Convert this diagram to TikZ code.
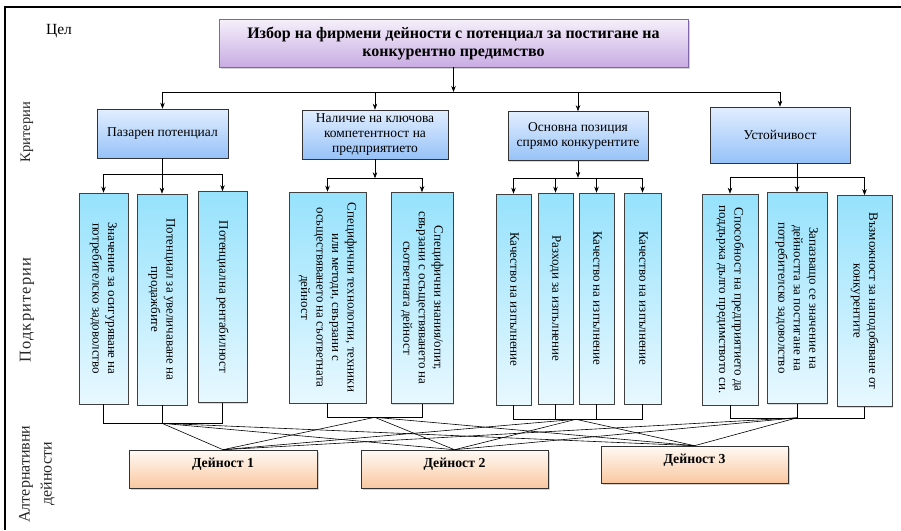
\documentclass[tikz,border=0pt]{standalone}
\usepackage{graphicx}
\usepackage{fontspec}
\setmainfont{Liberation Serif}
\usetikzlibrary{arrows.meta,positioning,calc,shadows}

\definecolor{goalline}{RGB}{128,100,168}
\definecolor{goaltop}{RGB}{246,240,251}
\definecolor{goalbot}{RGB}{200,172,226}
\definecolor{crittop}{RGB}{226,238,255}
\definecolor{critbot}{RGB}{150,194,248}
\definecolor{subtop}{RGB}{150,226,252}
\definecolor{subbot}{RGB}{232,248,255}
\definecolor{alttop}{RGB}{255,250,245}
\definecolor{altbot}{RGB}{249,200,160}

\newcommand{\vlines}[1]{\rotatebox{-90}{\begin{tabular}{@{}c@{}}#1\end{tabular}}}

\begin{document}
\begin{tikzpicture}[
  x=1pt, y=-1pt,
  >={Stealth[length=6pt,width=4.5pt]},
  line width=0.6pt,
  goal/.style={
    draw=goalline,
    top color=goaltop, bottom color=goalbot,
    minimum width=469pt, minimum height=48pt,
    align=center, inner ysep=2pt,
    font=\fontsize{16}{18}\selectfont\bfseries,
    drop shadow={shadow xshift=1.5pt, shadow yshift=-1.5pt, opacity=0.35}
  },
  crit/.style={
    draw=black!80,
    top color=crittop, bottom color=critbot,
    minimum height=49pt,
    align=center, inner ysep=2pt,
    font=\fontsize{13.5}{15}\selectfont,
    drop shadow={shadow xshift=1pt, shadow yshift=-1pt, opacity=0.3}
  },
  sub/.style={
    draw=black!75,
    top color=subtop, bottom color=subbot,
    minimum height=211pt, inner sep=0pt,
    font=\fontsize{13}{15.5}\selectfont,
    drop shadow={shadow xshift=1pt, shadow yshift=-1pt, opacity=0.3}
  },
  alt/.style={
    draw=black!80,
    top color=alttop, bottom color=altbot,
    minimum width=187pt, minimum height=38pt,
    text height=10pt, text depth=13pt,
    font=\fontsize{13.8}{15}\selectfont\bfseries,
    drop shadow={shadow xshift=1.5pt, shadow yshift=-1.5pt, opacity=0.35}
  },
  side/.style={rotate=90, align=center, text=black!85},
  link/.style={line width=0.6pt}
]
\useasboundingbox (0,0) rectangle (901,530);

% frame
\draw[line width=2pt] (5,530) -- (5,7) -- (901,7);

% level labels
\node[font=\fontsize{15.5}{17}\selectfont] (lgoal) at (59,31) {Цел};
\node[side, font=\fontsize{14.5}{16}\selectfont] (lcrit) at (27,132) {Критерии};
\node[side, font=\fontsize{16.5}{18}\selectfont\addfontfeatures{LetterSpace=7}] (lsub) at (27,310) {Подкритерии};
\node[side, font=\fontsize{16}{22}\selectfont] (lalt) at (37,474) {Алтернативни\\дейности};

% goal
\node[goal] (goal) at (453.5,43) {Избор на фирмени дейности с потенциал за постигане на\\конкурентно предимство};

% criteria
\node[crit, minimum width=131pt] (market) at (162.5,133.5) {Пазарен потенциал};
\node[crit, minimum width=146pt] (keycomp) at (375,134.5) {Наличие на ключова\\компетентност на\\предприятието};
\node[crit, minimum width=140pt] (position) at (578,136) {Основна позиция\\спрямо конкурентите};
\node[crit, minimum width=140pt, minimum height=56pt] (sustain) at (780,135) {Устойчивост};

% subcriteria
\node[sub, minimum width=49pt] (m1) at (103.5,298.5) {\vlines{Значение за осигуряване на\\потребителско задоволство}};
\node[sub, minimum width=50pt] (m2) at (162,299.5) {\vlines{Потенциал за увеличаване на\\продажбите}};
\node[sub, minimum width=49pt] (m3) at (222.5,297) {\vlines{Потенциална рентабилност}};

\node[sub, minimum width=77pt] (k1) at (327.5,297.5) {\vlines{Специфични технологии, техники\\или методи, свързани с\\осъществяването на съответната\\дейност}};
\node[sub, minimum width=62pt] (k2) at (422,298) {\vlines{Специфични знания/опит,\\свързани с осъществяването на\\съответната дейност}};

\node[sub, minimum width=35pt] (p1) at (513.5,299.5) {\vlines{Качество на изпълнение}};
\node[sub, minimum width=35pt] (p2) at (555.5,298.5) {\vlines{Разходи за изпълнение}};
\node[sub, minimum width=35pt] (p3) at (596.5,298.5) {\vlines{Качество на изпълнение}};
\node[sub, minimum width=37pt] (p4) at (642.5,298.5) {\vlines{Качество на изпълнение}};

\node[sub, minimum width=56pt] (s1) at (730,299.5) {\vlines{Способност на предприятието да\\поддържа дълго предимството си.}};
\node[sub, minimum width=60pt] (s2) at (797,298) {\vlines{Запазващо се значение на\\дейността за постигане на\\потребителско задоволство}};
\node[sub, minimum width=55pt] (s3) at (864.5,301) {\vlines{Възможност за наподобяване от\\конкурентите}};

% alternatives
\node[alt, minimum width=188pt] (act1) at (223,469) {Дейност 1};
\node[alt] (act2) at (454.5,469) {Дейност 2};
\node[alt, minimum height=37pt] (act3) at (694.5,464.5) {Дейност 3};

% goal -> criteria
\coordinate (bus) at (0,92);
\draw[->] (goal.south) -- (goal.south |- bus);
\draw (market.north |- bus) -- (sustain.north |- bus);
\foreach \c in {market,keycomp,position,sustain}
  \draw[->] (\c.north |- bus) -- (\c.north);

% criteria -> subcriteria
\draw (market.south) -- ++(0,16) coordinate (mb);
\draw (m1.north |- mb) -- (m3.north |- mb);
\foreach \s in {m1,m2,m3}
  \draw[->] (\s.north |- mb) -- (\s.north);

\draw[->] (keycomp.south) -- ++(0,19) coordinate (kb);
\draw (k1.north |- kb) -- (k2.north |- kb);
\foreach \s in {k1,k2}
  \draw[->] (\s.north |- kb) -- (\s.north);

\draw[->] (position.south) -- ++(0,17) coordinate (pb);
\draw (p1.north |- pb) -- (p4.north |- pb);
\foreach \s in {p1,p2,p3,p4}
  \draw[->] (\s.north |- pb) -- (\s.north);

\draw (sustain.south -| s2.north) -- ++(0,14) coordinate (sb);
\draw (s1.north |- sb) -- (s3.north |- sb);
\foreach \s in {s1,s2,s3}
  \draw[->] (\s.north |- sb) -- (\s.north);

% subcriteria -> joints
\draw (m2.south) -- ++(0,18) coordinate (jm);
\draw (m1.south) -- (m1.south |- jm) -- (m3.south |- jm) -- (m3.south);

\draw (k1.south) -- ++(0,14) coordinate (kl) -| (k2.south);
\coordinate (jk) at ($(kl)!0.5!(k2.south |- kl)$);

\draw (p1.south) -- ++(0,14) coordinate (pl) -| (p4.south);
\foreach \s in {p2,p3}
  \draw (\s.south) -- (\s.south |- pl);
\coordinate (jp) at ($(p2.south |- pl)!0.5!(p3.south |- pl)$);

\draw (s2.south) -- ++(0,14) coordinate (js);
\draw (s1.south) -- (s1.south |- js) -- (s3.south |- js) -- (s3.south);

% joints -> alternatives
\foreach \j in {jm,jk,jp,js}
  \foreach \a in {act1,act2,act3}
    \draw[link] (\j) -- (\a.north);

\end{tikzpicture}
\end{document}
